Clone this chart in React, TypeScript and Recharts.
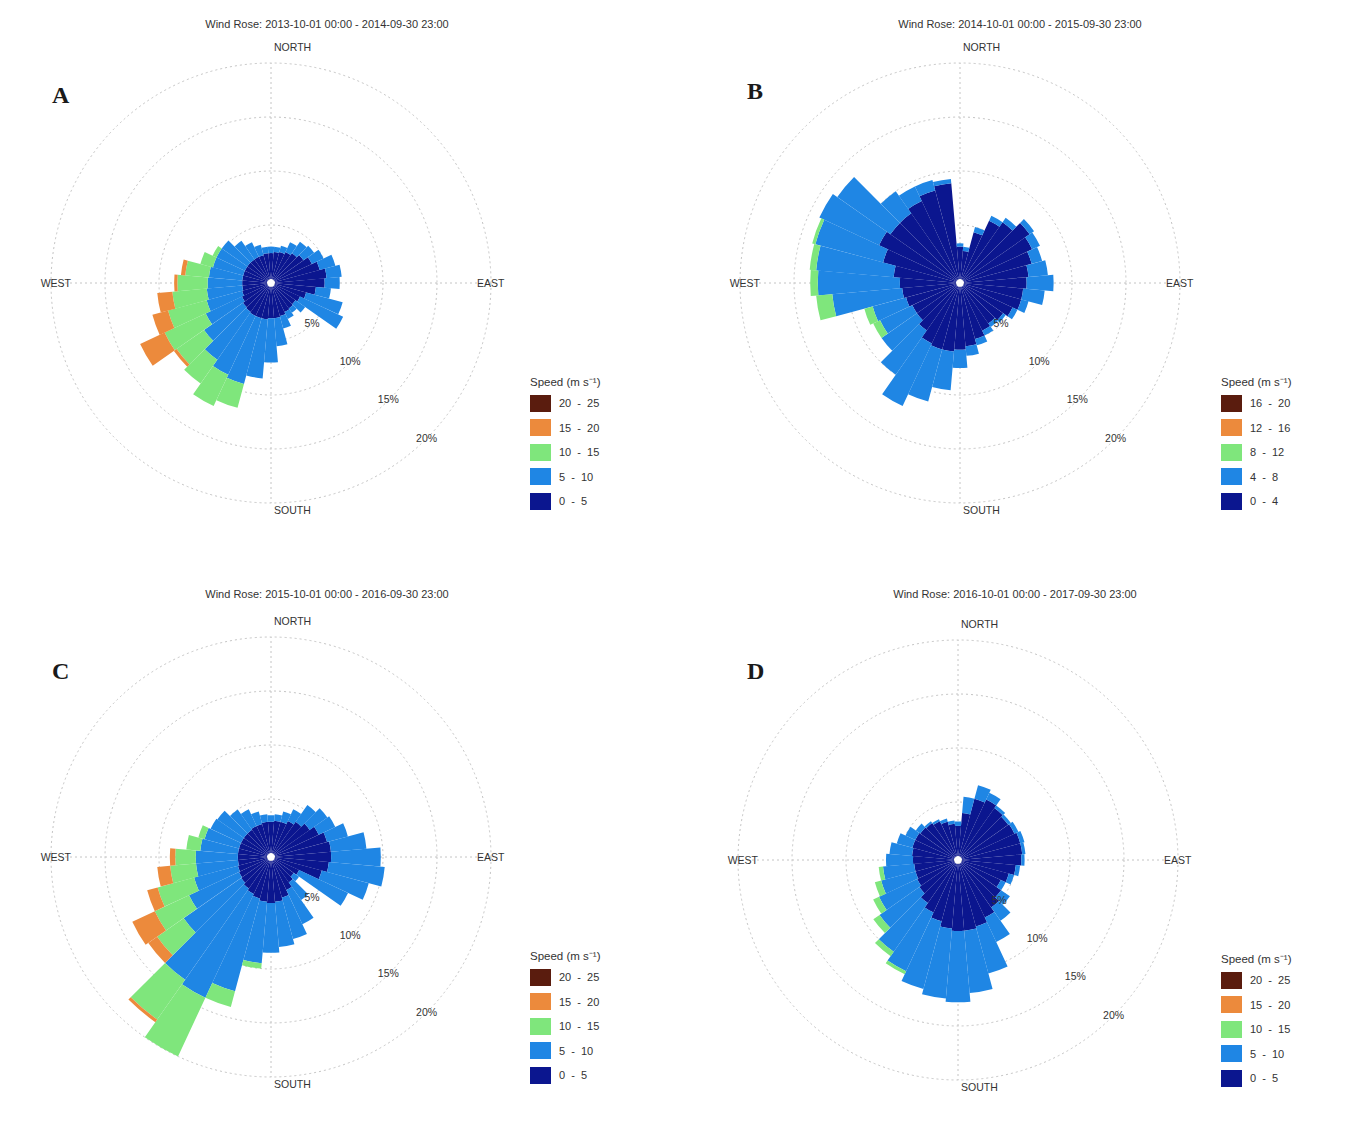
import React from 'react';
import { RadialBarChart, RadialBar, PolarGrid, PolarAngleAxis, PolarRadiusAxis } from 'recharts';

// wind direction bins (degrees from north, clockwise)
const directions = [
  '0', '10', '20', '30', '40', '50', '60', '70', '80', '90', '100', '110',
  '120', '130', '140', '150', '160', '170', '180', '190', '200', '210', '220', '230',
  '240', '250', '260', '270', '280', '290', '300', '310', '320', '330', '340', '350',
];

const radiusTicks = [0, 5, 10, 15, 20];

const speedColors = ['#0b168f', '#1f86e4', '#7fe67c', '#ec8a3c', '#5a1c0e'];
const speedNames = ['s0', 's1', 's2', 's3', 's4'];

// A
const aTitle = 'Wind Rose: 2013-10-01 00:00 - 2014-09-30 23:00';
const aLegend = ['20 - 25', '15 - 20', '10 - 15', '5 - 10', '0 - 5'];
const aSpeed1 = [2.4, 2.5, 2.6, 2.8, 3.0, 3.3, 3.8, 4.3, 4.8, 4.6, 3.8, 3.0, 2.6, 2.4, 2.5, 2.6, 2.8, 2.9, 2.9, 3.0, 3.0, 3.0, 2.9, 2.8, 2.6, 2.4, 2.3, 2.3, 2.3, 2.3, 2.3, 2.3, 2.3, 2.3, 2.3, 2.4];
const aSpeed2 = [0.6, 0.5, 0.6, 1.0, 1.3, 1.2, 1.2, 1.5, 1.4, 1.4, 1.4, 3.5, 4.4, 1.1, 0.5, 0.7, 1.2, 2.6, 4.1, 5.5, 6.3, 6.0, 5.4, 4.4, 3.7, 3.4, 3.3, 3.2, 3.1, 2.9, 2.9, 2.9, 2.1, 1.5, 1.0, 0.6];
const aSpeed3 = [0, 0, 0, 0, 0, 0, 0, 0, 0, 0, 0, 0, 0, 0, 0, 0, 0, 0, 0, 0, 2.3, 3.2, 2.7, 3.1, 4.2, 3.7, 3.2, 2.8, 2.2, 1.2, 0.4, 0, 0, 0, 0, 0];
const aSpeed4 = [0, 0, 0, 0, 0, 0, 0, 0, 0, 0, 0, 0, 0, 0, 0, 0, 0, 0, 0, 0, 0, 0, 0, 0.3, 2.5, 1.5, 1.4, 0.3, 0.4, 0, 0, 0, 0, 0, 0, 0];

// B
const bTitle = 'Wind Rose: 2014-10-01 00:00 - 2015-09-30 23:00';
const bLegend = ['16 - 20', '12 - 16', '8 - 12', '4 - 8', '0 - 4'];
const bSpeed1 = [3.0, 2.6, 4.5, 6.0, 6.5, 7.5, 7.0, 6.5, 6.0, 5.8, 5.5, 5.5, 5.0, 4.5, 4.2, 4.5, 5.0, 5.5, 5.8, 6.0, 6.0, 5.8, 5.0, 4.5, 4.5, 4.8, 5.0, 5.2, 5.8, 7.0, 7.9, 7.5, 7.5, 8.0, 8.5, 8.9];
const bSpeed2 = [0.3, 0.4, 0.5, 0.5, 0.5, 0.5, 0.8, 1.0, 1.8, 2.5, 2.0, 0.7, 0.5, 0.3, 0.4, 0.5, 0.6, 0.9, 1.7, 3.6, 5.0, 6.4, 5.0, 4.0, 3.3, 3.2, 6.5, 7.6, 7.2, 6.5, 6.1, 6.0, 2.5, 1.5, 1.0, 0.4];
const bSpeed3 = [0, 0, 0, 0, 0, 0, 0, 0, 0, 0, 0, 0, 0, 0, 0, 0, 0, 0, 0, 0, 0, 0, 0, 0, 0.7, 0.8, 1.5, 0.7, 0.6, 0.3, 0, 0, 0, 0, 0, 0];

// C
const cTitle = 'Wind Rose: 2015-10-01 00:00 - 2016-09-30 23:00';
const cLegend = ['20 - 25', '15 - 20', '10 - 15', '5 - 10', '0 - 5'];
const cSpeed1 = [2.9, 3.0, 3.0, 3.3, 3.6, 4.0, 4.5, 5.0, 5.2, 5.2, 5.0, 4.5, 2.5, 2.2, 2.5, 3.0, 3.5, 3.8, 3.9, 3.8, 3.6, 3.4, 3.2, 3.0, 2.9, 2.8, 2.7, 2.7, 2.7, 2.7, 2.7, 2.7, 2.7, 2.8, 2.8, 2.9];
const cSpeed2 = [0.6, 0.6, 1.0, 1.2, 1.9, 2.0, 1.7, 2.0, 3.3, 4.6, 5.2, 4.5, 5.0, 0.6, 2.0, 3.5, 4.0, 4.2, 4.6, 5.7, 8.9, 10.6, 10.3, 6.5, 5.1, 4.2, 3.9, 3.9, 3.5, 3.3, 3.1, 3.0, 2.3, 1.7, 1.2, 0.7];
const cSpeed3 = [0, 0, 0, 0, 0, 0, 0, 0, 0, 0, 0, 0, 0, 0, 0, 0, 0, 0, 0, 0.5, 1.5, 6.3, 4.5, 3.0, 3.5, 3.5, 2.4, 1.9, 1.3, 0.6, 0, 0, 0, 0, 0, 0];
const cSpeed4 = [0, 0, 0, 0, 0, 0, 0, 0, 0, 0, 0, 0, 0, 0, 0, 0, 0, 0, 0, 0, 0, 0, 0.3, 1.0, 2.3, 1.0, 1.2, 0.5, 0, 0, 0, 0, 0, 0, 0, 0];

// D
const dTitle = 'Wind Rose: 2016-10-01 00:00 - 2017-09-30 23:00';
const dLegend = ['20 - 25', '15 - 20', '10 - 15', '5 - 10', '0 - 5'];
const dSpeed1 = [2.8, 4.0, 5.5, 5.8, 5.5, 5.3, 5.4, 5.6, 5.6, 5.5, 5.0, 4.5, 4.0, 4.5, 5.0, 5.5, 6.0, 6.2, 6.2, 6.0, 5.5, 5.0, 4.5, 4.0, 3.8, 3.7, 3.7, 3.8, 3.9, 4.0, 4.0, 3.9, 3.8, 3.6, 3.3, 3.0];
const dSpeed2 = [0.4, 1.5, 1.3, 0.7, 0.3, 0.3, 0.4, 0.4, 0.3, 0.3, 0.4, 0.5, 0.5, 1.0, 1.5, 2.5, 4.5, 5.8, 6.6, 6.5, 6.5, 6.0, 5.5, 4.5, 3.9, 3.3, 2.9, 2.5, 2.1, 1.5, 1.0, 0.5, 0.2, 0.2, 0.3, 0.3];
const dSpeed3 = [0, 0, 0, 0, 0, 0, 0, 0, 0, 0, 0, 0, 0, 0, 0, 0, 0, 0, 0, 0, 0, 0.3, 0.5, 0.7, 0.6, 0.6, 0.4, 0, 0, 0, 0, 0, 0, 0, 0, 0];

const DIR_LABELS: Record<string, string> = { '0': 'NORTH', '90': 'EAST', '180': 'SOUTH', '270': 'WEST' };

const buildRows = (series: number[][]) =>
  directions.map((dir, i) => {
    const row: Record<string, any> = { dir };
    series.forEach((s, k) => { row[speedNames[k]] = s[i]; });
    return row;
  });

const FONT = '"Liberation Sans", Arial, sans-serif';

type PanelProps = {
  left: number; top: number; cx: number; cy: number; titleX: number; letterTop: number;
  letter: string; title: string; legend: string[]; series: number[][];
};

const Panel = ({ left, top, cx, cy, titleX, letterTop, letter, title, legend, series }: PanelProps) => {
  const rows = buildRows(series);

  const dirTick = (p: any) => {
    const name = DIR_LABELS[String(p.payload.value)];
    if (!name) return <g />;
    let x = cx + 3, y = cy, anchor = 'start';
    if (name === 'NORTH') y = cy - 232;
    if (name === 'SOUTH') y = cy + 231;
    if (name === 'EAST') { x = cx + 206; y = cy + 4; }
    if (name === 'WEST') { x = cx - 200; y = cy + 4; anchor = 'end'; }
    return (
      <text x={x} y={y} textAnchor={anchor} fontSize={10.5} fill="#333" fontFamily={FONT}>{name}</text>
    );
  };

  const pctTick = (p: any) => {
    if (!p.payload.value) return <g />;
    return (
      <text x={p.x} y={p.y} dy={3} textAnchor="middle" fontSize={10.5} fill="#333" fontFamily={FONT}>
        {`${p.payload.value}%`}
      </text>
    );
  };

  return (
    <div style={{ position: 'absolute', left, top, width: 675, height: 565 }}>
      <RadialBarChart
        width={675}
        height={565}
        cx={cx}
        cy={cy}
        innerRadius={4}
        outerRadius={220}
        startAngle={85}
        endAngle={-275}
        layout="centric"
        data={rows}
        barCategoryGap={0}
        barGap={0}
        margin={{ top: 0, right: 0, bottom: 0, left: 0 }}
      >
        <PolarGrid gridType="circle" polarAngles={[90, 0, -90, 180]} stroke="#c4c4c4" strokeDasharray="2 3" />
        <PolarAngleAxis type="category" dataKey="dir" axisLine={false} tickLine={false} tick={dirTick} />
        <PolarRadiusAxis type="number" domain={[0, 20]} ticks={radiusTicks} angle={-45} axisLine={false} tick={pctTick} />
        {series.map((_, k) => (
          <RadialBar key={k} dataKey={speedNames[k]} stackId="w" fill={speedColors[k]} isAnimationActive={false} />
        ))}
      </RadialBarChart>
      <div style={{ position: 'absolute', left: titleX - 300, width: 600, top: 18, textAlign: 'center', fontFamily: FONT, fontSize: 11, color: '#333' }}>
        {title}
      </div>
      <div style={{ position: 'absolute', left: left === 0 ? 52 : 72, top: letterTop, fontFamily: '"Liberation Serif", serif', fontWeight: 'bold', fontSize: 24, color: '#1a1a1a' }}>
        {letter}
      </div>
      <div style={{ position: 'absolute', left: left === 0 ? 530 : 546, top: cy + 90, fontFamily: FONT, fontSize: 11, color: '#333' }}>
        <div style={{ height: 18, lineHeight: '18px', fontSize: 11.5 }}>Speed (m s⁻¹)</div>
        {legend.map((lab, i) => (
          <div key={lab} style={{ display: 'flex', alignItems: 'center', height: 24.5 }}>
            <div style={{ width: 21, height: 17, background: speedColors[4 - i] }} />
            <span style={{ marginLeft: 8, wordSpacing: 3 }}>{lab}</span>
          </div>
        ))}
      </div>
    </div>
  );
};

export default function App() {
  return (
    <div style={{ position: 'absolute', left: 0, top: 0, width: 1350, height: 1124, background: '#fff' }}>
      <Panel left={0} top={0} cx={271} cy={283} titleX={327} letterTop={82} letter="A" title={aTitle} legend={aLegend} series={[aSpeed1, aSpeed2, aSpeed3, aSpeed4]} />
      <Panel left={675} top={0} cx={285} cy={283} titleX={345} letterTop={78} letter="B" title={bTitle} legend={bLegend} series={[bSpeed1, bSpeed2, bSpeed3]} />
      <Panel left={0} top={570} cx={271} cy={287} titleX={327} letterTop={88} letter="C" title={cTitle} legend={cLegend} series={[cSpeed1, cSpeed2, cSpeed3, cSpeed4]} />
      <Panel left={675} top={570} cx={283} cy={290} titleX={340} letterTop={88} letter="D" title={dTitle} legend={dLegend} series={[dSpeed1, dSpeed2, dSpeed3]} />
    </div>
  );
}
